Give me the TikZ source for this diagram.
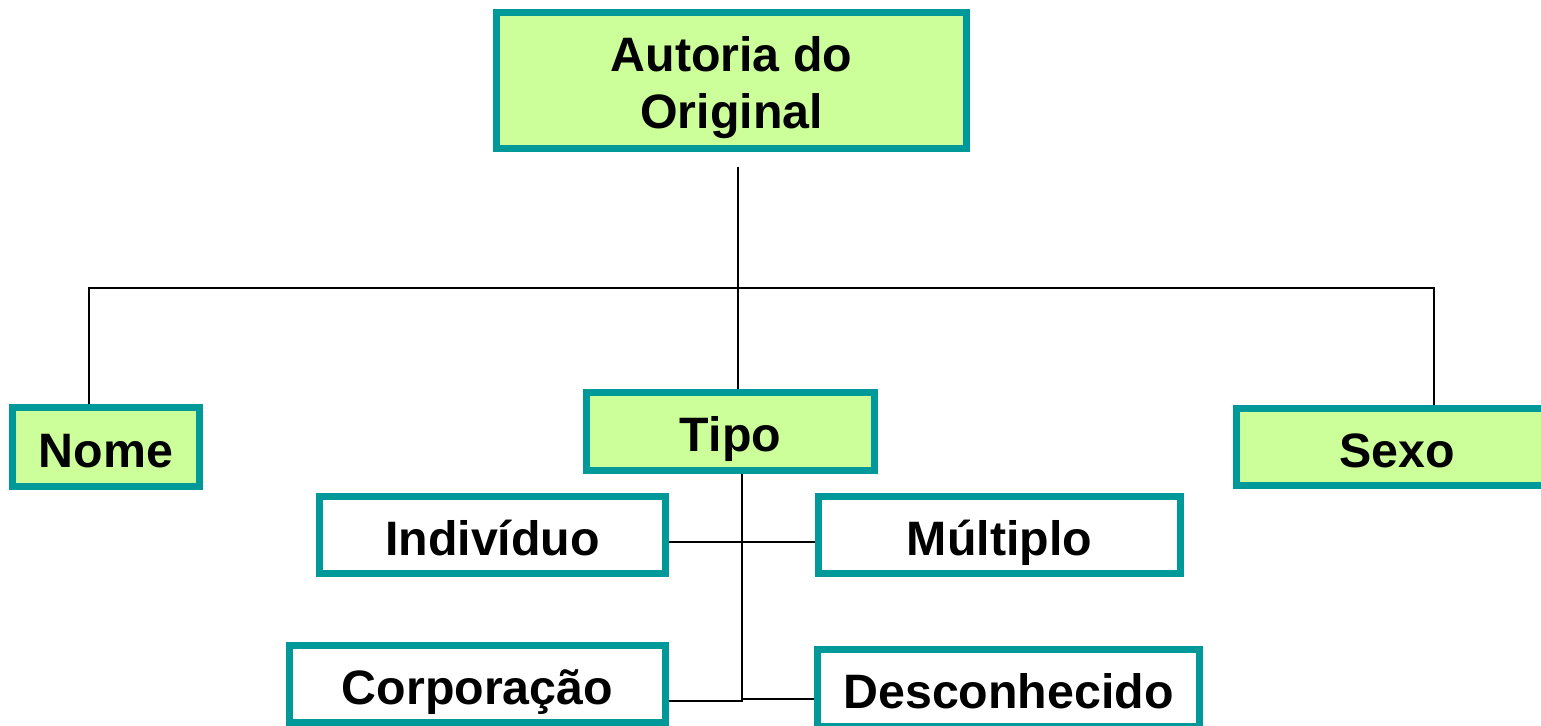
\documentclass[tikz,border=0pt]{standalone}
\usepackage{fontspec}
\setmainfont{Liberation Sans}
\usepackage{tikz}
\definecolor{borda}{RGB}{0,153,153}
\definecolor{verdeclaro}{RGB}{204,255,153}

\begin{document}
\begin{tikzpicture}[x=0.02cm, y=-0.02cm,
  caixa/.style={draw=borda, line width=4pt, inner sep=0pt, align=center,
    font=\fontsize{27.5}{32}\selectfont\bfseries, minimum height=1.54cm,
    text height=0.9cm, text depth=0.1cm},
  verde/.style={caixa, fill=verdeclaro},
  branca/.style={caixa, fill=white},
  liga/.style={line width=0.8pt}]
\useasboundingbox (0,0) rectangle (1541,725);
\node[verde, minimum width=9.4cm, minimum height=2.72cm, text height=2cm] (autoria) at (731.5,80.5) {Autoria do\\Original};
\node[verde, minimum width=3.74cm, minimum height=1.58cm] (nome) at (106,447) {Nome};
\node[verde, minimum width=5.76cm, minimum height=1.56cm] (tipo) at (730.5,431.5) {Tipo};
\node[verde, minimum width=6.42cm] (sexo) at (1397,447) {Sexo};
\node[branca, minimum width=6.92cm] (indiv) at (492.5,535) {Indivíduo};
\node[branca, minimum width=7.24cm] (multi) at (999.5,535) {Múltiplo};
\node[branca, minimum width=7.52cm] (corp) at (477.5,684) {Corporação};
\node[branca, minimum width=7.64cm] (desc) at (1008.5,688) {Desconhecido};
\coordinate (topo) at (738,167);
\coordinate (esq) at (89,288);
\coordinate (dir) at (1434,288);
\coordinate (meio) at (742,542);
\coordinate (fundo) at (742,699);
\draw[liga] (topo) -- (topo |- tipo.north);
\draw[liga] (nome.north -| esq) -- (esq) -- (dir) -- (sexo.north -| dir);
\draw[liga] (tipo.south -| meio) -- (fundo);
\draw[liga] (indiv.east |- meio) -- (multi.west |- meio);
\draw[liga] (corp.east |- 0,701) -- (742,701) -- (fundo) -- (desc.west |- fundo);
\end{tikzpicture}
\end{document}
